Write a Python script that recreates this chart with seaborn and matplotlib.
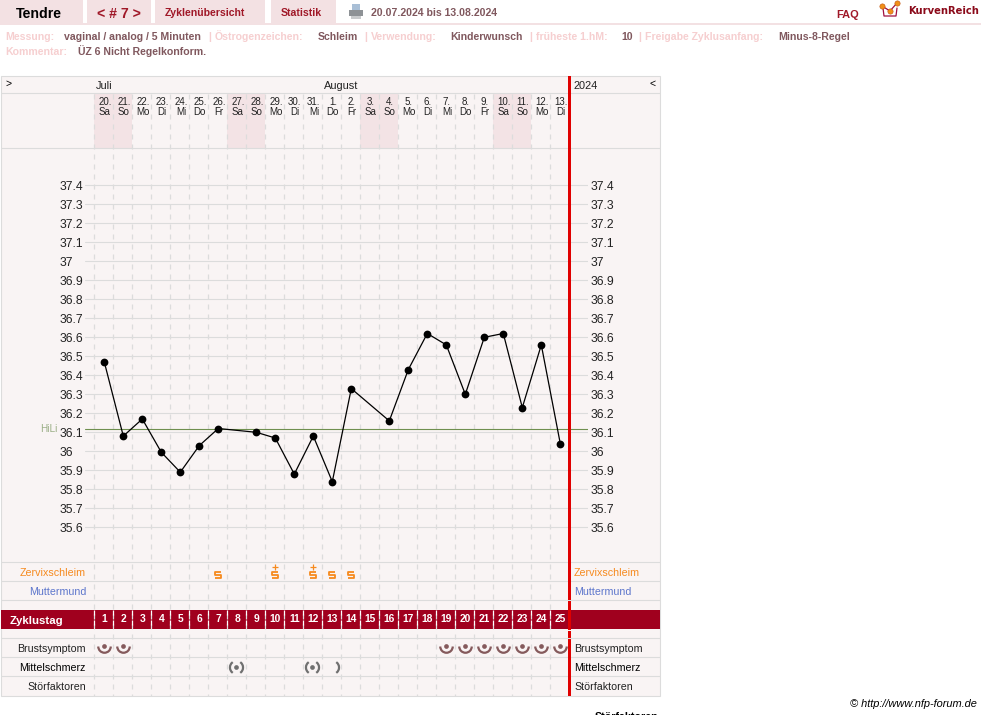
import numpy as np
import pandas as pd
import matplotlib
matplotlib.use("Agg")
import matplotlib.pyplot as plt
from matplotlib.path import Path
from matplotlib.patches import Rectangle
from matplotlib.transforms import blended_transform_factory
import seaborn as sns

# Werte
mess_tage = [1, 2, 3, 4, 5, 6, 7, 9, 10, 11, 12, 13, 14, 16, 17, 18, 19, 20, 21, 22, 23, 24, 25]
temperatur = [36.47, 36.08, 36.17, 35.995, 35.89, 36.03, 36.12, 36.10, 36.07, 35.88, 36.08, 35.84,
              36.33, 36.16, 36.43, 36.62, 36.56, 36.30, 36.60, 36.62, 36.23, 36.56, 36.04]
hili = 36.116
zyklustage = list(range(1, 26))
datum = ['20.', '21.', '22.', '23.', '24.', '25.', '26.', '27.', '28.', '29.', '30.', '31.', '1.',
         '2.', '3.', '4.', '5.', '6.', '7.', '8.', '9.', '10.', '11.', '12.', '13.']
wochentag = ['Sa', 'So', 'Mo', 'Di', 'Mi', 'Do', 'Fr', 'Sa', 'So', 'Mo', 'Di', 'Mi', 'Do',
             'Fr', 'Sa', 'So', 'Mo', 'Di', 'Mi', 'Do', 'Fr', 'Sa', 'So', 'Mo', 'Di']
wochenende = [1, 2, 8, 9, 15, 16, 22, 23]
temp_ticks = [37.4, 37.3, 37.2, 37.1, 37.0, 36.9, 36.8, 36.7, 36.6, 36.5, 36.4, 36.3, 36.2, 36.1,
              36.0, 35.9, 35.8, 35.7, 35.6]
temp_labels = ['37.4', '37.3', '37.2', '37.1', '37', '36.9', '36.8', '36.7', '36.6', '36.5', '36.4',
               '36.3', '36.2', '36.1', '36', '35.9', '35.8', '35.7', '35.6']
schleim_tage = [7, 10, 12, 13, 14]
schleim_plus_tage = [10, 12]
brust_tage = [1, 2, 19, 20, 21, 22, 23, 24, 25]
mittel_tage = [8, 12]
mittel_rechts_tage = [13]

sns.set_theme(style="white")
plt.rcParams['font.family'] = ['Liberation Sans', 'DejaVu Sans']

W, H = 981, 715
PANEL = '#f9f4f4'
LINIE = '#dcdcdc'
WEEKEND = '#f3e3e5'
TAB = '#f3e1e3'
WEINROT = '#a0001e'
ORANGE = '#f68a1e'
BLAU = '#5d76cc'
ROSA = '#f6cfd0'
BRAUN = '#80585e'
BRAUN_ICON = '#855a5c'
GRAU_ICON = '#707070'

fig = plt.figure(figsize=(W / 100, H / 100), dpi=100, facecolor='white')

# Seite in Pixelkoordinaten, darunter liegend
page = fig.add_axes([0, 0, 1, 1], zorder=0)
page.set_xlim(0, W)
page.set_ylim(H, 0)
page.axis('off')

# Kurve
ax = fig.add_axes([85 / W, 1 - 562 / H, (588 - 85) / W, (562 - 148) / H], zorder=2)
ax.patch.set_alpha(0)
ax.set_xlim(1 + (85 - 104.3) / 19, 1 + (588 - 104.3) / 19)
ylim = (36.6 - (562 - 337.3) / 190, 36.6 + (337.3 - 148) / 190)
ax.set_ylim(*ylim)
sns.despine(ax=ax, left=True, bottom=True)
ax.set_xticks([])
ax.set_yticks(temp_ticks)
ax.set_yticklabels(temp_labels, ha='left', fontsize=8.7, color='#222222')
ax.tick_params(axis='y', length=0, pad=18.2)
ax.grid(axis='y', color=LINIE, linewidth=0.8)
ax.set_axisbelow(True)

ax2 = ax.twinx()
sns.despine(ax=ax2, left=True, bottom=True, right=True)
ax2.set_ylim(*ylim)
ax2.set_yticks(temp_ticks)
ax2.set_yticklabels(temp_labels, fontsize=8.7, color='#222222')
ax2.tick_params(axis='y', length=0, pad=1.5)
ax2.grid(False)

ax.axhline(hili, color='#6f8f4f', linewidth=0.8, zorder=2)
df = pd.DataFrame({'tag': mess_tage, 'temp': temperatur})
sns.lineplot(data=df, x='tag', y='temp', ax=ax, color='black', linewidth=0.9, marker='o',
             markersize=5.6, markeredgewidth=0, estimator=None, sort=False, zorder=3)
ax.set_xlabel('')
ax.set_ylabel('')

blend = blended_transform_factory(ax.transData, page.transData)


def txt(x, y, s, size=7.7, color='black', weight='normal', ha='left', **kw):
    # auf Grundlinie setzen, damit Umlaute die Zeile nicht verschieben
    return page.text(x, y + 0.5 * size, s, fontsize=size, color=color, fontweight=weight, ha=ha,
                     va='baseline', **kw)


# Kopfzeile
for x0, x1 in [(0, 83), (87, 151), (155, 265), (271, 336)]:
    page.add_patch(Rectangle((x0, 0), x1 - x0, 23, color=TAB, lw=0))
page.add_patch(Rectangle((0, 23), W, 2, color=TAB, lw=0))
txt(16, 12.5, 'Tendre', 10.2, 'black', 'bold')
txt(97, 12.5, '< # 7 >', 10.2, '#a01828', 'bold')
txt(165, 12, 'Zyklenübersicht', 7.6, '#a01828', 'bold')
txt(281, 12, 'Statistik', 7.6, '#a01828', 'bold')
txt(371, 12, '20.07.2024 bis 13.08.2024', 7.6, BRAUN, 'bold')
txt(836, 14.5, 'FAQ', 7.9, '#a01828', 'bold')
txt(908, 10, 'KurvenReich', 7.2, '#8b0a1a', 'bold', family='DejaVu Sans')

# Drucker
page.add_patch(Rectangle((352, 4), 8, 7, color='#a9bfd6', lw=0))
page.add_patch(Rectangle((349, 10), 14, 6, color='#8e9296', lw=0))
page.add_patch(Rectangle((351, 16), 10, 3, color='#c9cbcd', lw=0))
# Logo
page.plot([883, 884, 896, 897], [8, 16, 16, 8], color='#a01040', lw=0.9)
page.plot([882, 890, 897], [6, 11, 3], color='#a01040', lw=0.9, marker='o', ms=3.8,
          mfc='#f09018', mec='#c05010', mew=0.4)

# Infozeilen
info = [(5, 'Messung:', ROSA), (64, 'vaginal / analog / 5 Minuten', BRAUN), (208, '|', ROSA),
        (215, 'Östrogenzeichen:', ROSA), (318, 'Schleim', BRAUN), (364, '|', ROSA),
        (371, 'Verwendung:', ROSA), (450, 'Kinderwunsch', BRAUN), (529, '|', ROSA),
        (536, 'früheste 1.hM:', ROSA), (621, '10', BRAUN), (638, '|', ROSA),
        (645, 'Freigabe Zyklusanfang:', ROSA), (778, 'Minus-8-Regel', BRAUN)]
for x, s, c in info:
    txt(x, 36, s, 7.55, c, 'bold')
txt(5, 51, 'Kommentar:', 7.55, ROSA, 'bold')
txt(78, 51, 'ÜZ 6 Nicht Regelkonform.', 7.55, BRAUN, 'bold')

# Tabelle
page.add_patch(Rectangle((0.5, 76), 659, 620, facecolor=PANEL, edgecolor=LINIE, lw=0.8))
for d in wochenende:
    page.add_patch(Rectangle((d - 0.526, 94), 1, 54, facecolor=WEEKEND, lw=0, transform=blend))
for y in [93.3, 148, 562.3, 581.3, 600.3, 638.3, 657.3, 676.3]:
    page.plot([0.5, 659.5], [y, y], color=LINIE, lw=0.8)
for d in zyklustage:
    page.plot([d - 0.526, d - 0.526], [94, 696], color=LINIE, lw=0.9, ls=(0, (4, 4)), transform=blend)

page.add_patch(Rectangle((0.5, 610), 659, 19, color=WEINROT, lw=0))
for d in zyklustage:
    page.plot([d - 0.526, d - 0.526], [610, 629], color='white', lw=0.9, ls=(0, (4, 4)), transform=blend)
    page.text(d, 619.5, str(d), fontsize=7.4, color='white', fontweight='bold', ha='center', va='center',
              transform=blend)
txt(10, 619.5, 'Zyklustag', 8.2, 'white', 'bold')

txt(5, 83, '>', 7.5, 'black')
txt(96, 85, 'Juli', 7.9, '#222222')
txt(324, 85, 'August', 7.9, '#222222')
txt(574, 85.5, '2024', 7.9, '#222222')
txt(649, 83, '<', 7.5, 'black')
for d, a, b in zip(zyklustage, datum, wochentag):
    for y, s in [(101.5, a), (111.5, b)]:
        page.text(d + 0.03, y + 3.5, s, fontsize=7.0, color='#222222', ha='center', va='baseline',
                  transform=blend)

zeilen_links = [(572, 'Zervixschleim', ORANGE), (591, 'Muttermund', BLAU), (648, 'Brustsymptom', '#222222'),
                (667, 'Mittelschmerz', 'black'), (686, 'Störfaktoren', '#222222')]
for y, s, c in zeilen_links:
    txt(86, y, s, 7.7, c, ha='right')
    txt(574, y, s, 7.7, c)
txt(40, 428.5, 'HiLi', 7.2, '#9aae85')

# Symbole
s_form = Path([(0.75, 1), (-0.75, 1), (-0.75, 0), (0.75, 0), (0.75, -1), (-0.75, -1)])
page.plot(schleim_tage, [574.5] * len(schleim_tage), ls='none', marker=s_form, ms=5.0, mfc='none',
          mec=ORANGE, mew=1.3, transform=blend)
page.plot(schleim_plus_tage, [566.5] * len(schleim_plus_tage), ls='none', marker='+', ms=4.0,
          mec=ORANGE, mew=0.9, transform=blend)

unten = Path.arc(180, 360)
page.plot(brust_tage, [646] * len(brust_tage), ls='none', marker=unten, ms=9.0, mfc='none', mec=BRAUN_ICON,
          mew=1.6, transform=blend)
page.plot(brust_tage, [645.5] * len(brust_tage), ls='none', marker='o', ms=3.4, mfc=BRAUN_ICON, mew=0,
          transform=blend)

links = Path.arc(125, 235)
rechts = Path.arc(-55, 55)
mitte = [d - 0.05 for d in mittel_tage]
page.plot(mitte, [666.7] * len(mitte), ls='none', marker=links, ms=9.4, mfc='none', mec=GRAU_ICON, mew=1.6,
          transform=blend)
page.plot(mitte, [666.7] * len(mitte), ls='none', marker=rechts, ms=9.4, mfc='none', mec=GRAU_ICON, mew=1.6,
          transform=blend)
page.plot(mitte, [666.7] * len(mitte), ls='none', marker='o', ms=3.4, mfc=GRAU_ICON, mew=0, transform=blend)
page.plot(mittel_rechts_tage, [666.7], ls='none', marker=rechts, ms=9.4, mfc='none', mec=GRAU_ICON, mew=1.6,
          transform=blend)

txt(977, 703, '© http://www.nfp-forum.de', 7.9, 'black', ha='right', style='italic')
txt(595, 716, 'Störfaktoren', 7.7, 'black', 'bold')

# Rote Linie ganz oben
top = fig.add_axes([0, 0, 1, 1], zorder=5)
top.patch.set_alpha(0)
top.set_xlim(0, W)
top.set_ylim(H, 0)
top.axis('off')
for y0, y1 in [(76, 600), (601, 629.5), (630.5, 638), (639, 696)]:
    top.add_patch(Rectangle((568, y0), 3, y1 - y0, color='#e00000', lw=0))

fig.savefig('out.png', dpi=100)
